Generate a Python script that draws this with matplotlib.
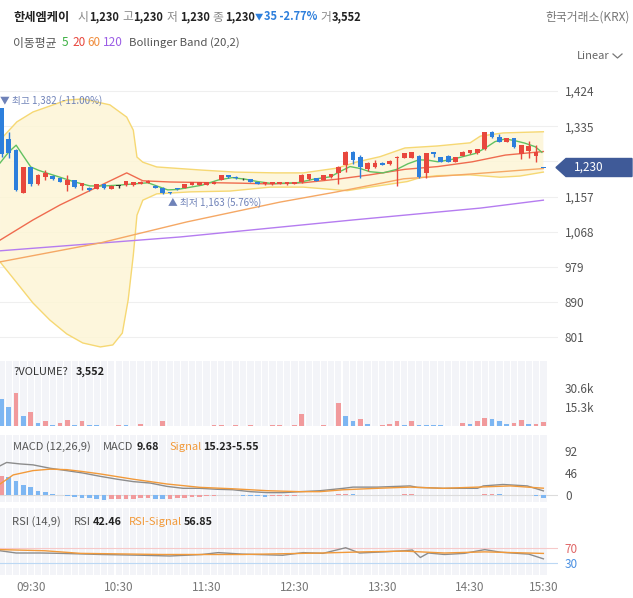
import matplotlib
matplotlib.use("Agg")
import matplotlib.pyplot as plt
from matplotlib.patches import Polygon
from matplotlib.lines import Line2D
import numpy as np

plt.rcParams['font.family'] = ['Noto Sans CJK KR', 'DejaVu Sans']

W, H = 633, 598

# 5-minute candles, visible window (index 0..74)
opens = [1380, 1303, 1275, 1167, 1231, 1188, 1206, 1209, 1203, 1186,
         1198, 1184, 1180, 1176, 1188, 1176, 1185, 1186, 1186, 1190,
         1192, 1185, 1180, 1168, 1179, 1180, 1187, 1187, 1187, 1190,
         1199, 1211, 1207, 1203, 1201, 1193, 1188, 1188, 1188, 1188,
         1188, 1193, 1201, 1203, 1199, 1206, 1216, 1237, 1269, 1256,
         1226, 1231, 1243, 1239, 1254, 1255, 1255, 1260, 1216, 1269,
         1256, 1260, 1245, 1260, 1266, 1266, 1277, 1320, 1307, 1295,
         1304, 1264, 1273, 1260, 1230]
highs = [1382, 1320, 1278, 1233, 1233, 1213, 1225, 1211, 1205, 1211,
         1200, 1192, 1181, 1190, 1189, 1186, 1187, 1197, 1194, 1196,
         1198, 1186, 1181, 1169, 1180, 1189, 1194, 1193, 1194, 1196,
         1212, 1212, 1208, 1204, 1202, 1194, 1194, 1195, 1195, 1194,
         1195, 1213, 1214, 1204, 1212, 1215, 1235, 1272, 1272, 1262,
         1245, 1249, 1245, 1250, 1260, 1268, 1270, 1261, 1268, 1270,
         1257, 1261, 1257, 1273, 1276, 1278, 1321, 1323, 1315, 1305,
         1305, 1288, 1297, 1287, 1230]
lows = [1258, 1255, 1170, 1165, 1183, 1186, 1200, 1199, 1193, 1171,
        1180, 1173, 1172, 1175, 1177, 1175, 1178, 1185, 1185, 1189,
        1191, 1178, 1163, 1163, 1174, 1179, 1186, 1186, 1187, 1189,
        1198, 1203, 1202, 1198, 1194, 1188, 1187, 1187, 1188, 1187,
        1188, 1192, 1200, 1196, 1198, 1205, 1190, 1219, 1240, 1203,
        1222, 1229, 1236, 1237, 1185, 1254, 1254, 1203, 1203, 1256,
        1244, 1244, 1244, 1259, 1265, 1265, 1276, 1306, 1294, 1294,
        1281, 1252, 1254, 1244, 1230]
closes = [1264, 1266, 1174, 1231, 1188, 1211, 1217, 1201, 1195, 1199,
          1182, 1191, 1174, 1188, 1178, 1185, 1185, 1196, 1193, 1195,
          1197, 1179, 1166, 1165, 1175, 1188, 1193, 1193, 1193, 1195,
          1211, 1207, 1203, 1203, 1195, 1189, 1193, 1194, 1194, 1194,
          1194, 1212, 1213, 1197, 1211, 1214, 1233, 1270, 1249, 1231,
          1243, 1243, 1237, 1248, 1258, 1266, 1269, 1206, 1266, 1264,
          1245, 1245, 1256, 1269, 1275, 1277, 1320, 1307, 1295, 1304,
          1282, 1287, 1286, 1269, 1230]

volume_prev = 24000
volume = [21500, 15500, 26300, 8000, 11300, 2700, 3800, 1000, 2400, 4800,
          1000, 3800, 800, 700, 0, 0, 500, 500, 0, 1600,
          0, 0, 4300, 0, 0, 0, 0, 0, 0, 1000,
          1100, 0, 600, 0, 700, 0, 0, 600, 700, 0,
          500, 9700, 0, 0, 800, 0, 18800, 8000, 3800, 5900,
          1600, 0, 800, 1300, 4300, 600, 3800, 500, 500, 500,
          500, 0, 0, 2400, 1600, 3800, 6400, 5600, 3800, 1600,
          2700, 5100, 1600, 1800, 3552]

hist_prev = 35
macd_hist = [39.7, 38, 31, 22, 17, 10, 7, 3.5, 1, -2,
             -3.5, -4.5, -5.5, -7, -9.5, -8, -7.5, -7, -6.5, -6,
             -5.5, -6.5, -8, -7, -6, -5, -4, -3, -2, -1,
             0, 0.5, 0.3, -0.5, -1.5, -2, -2.5, -2, -1.5, -1,
             -0.5, 0.5, 1, 0.8, 1, 1.5, 2.5, 3.5, 2.5, 2,
             1.8, 1.5, 1.0, 0.7, 2, 2.1, 2.2, 0, 0, 0.5,
             0.3, 0, 0.5, 0.8, 1.0, 1.5, 2.5, 3.5, 2.5, 2,
             1.5, 0.7, 0, -1, -5.55]

# indicator lines (candle index, value)
ma5_x = [-0.2, 1, 2, 2.9, 4, 5, 6.1, 8, 10, 12.1, 14, 16, 18, 20, 22.7, 24,
         27.4, 29.6, 31.5, 33.3, 35, 37, 40.4, 42.6, 44.9, 46.2, 47.6, 49,
         50.3, 52.1, 54, 55.5, 57, 58.3, 59.6, 61.5, 63, 64.7, 66, 67.4,
         68.8, 70.2, 71.5, 72.9, 73.8]
ma5_v = [1242, 1270, 1287, 1262, 1232, 1224, 1217, 1206, 1194, 1184, 1184,
         1186, 1189, 1192, 1174, 1175, 1186, 1199, 1205, 1201, 1195, 1190,
         1192, 1201, 1207, 1220, 1233, 1228, 1220, 1217, 1226, 1240, 1250,
         1249, 1245, 1251, 1258, 1266, 1279, 1296, 1303, 1298, 1292, 1283,
         1269]
ma20_x = [-0.2, 4.3, 8, 13.5, 17.1, 19.3, 23, 32.6, 36.7, 41.2, 45.8, 50.3,
          55.1, 59.6, 64.3, 68.8, 74]
ma20_v = [1047, 1098, 1136, 1185, 1217, 1197, 1194, 1191, 1189, 1192, 1201,
          1212, 1226, 1233, 1245, 1262, 1271]
ma60_x = [-0.2, 13.5, 25.3, 38, 45.8, 54.9, 64, 74]
ma60_v = [992, 1040, 1093, 1143, 1169, 1202, 1214, 1228]
ma120_x = [-0.2, 24.4, 48, 65.4, 74]
ma120_v = [1020, 1055, 1098, 1128, 1148]
bb_up_x = [-0.2, 2.1, 4.3, 8.9, 11.1, 14.8, 17.1, 18, 18.5, 19.3, 21.2, 27.4,
           31.9, 37.4, 41.2, 45.8, 48.6, 51.7, 55.1, 59.5, 64, 65.4, 68.5, 74]
bb_up_v = [1300, 1346, 1371, 1401, 1404, 1389, 1358, 1325, 1257, 1244, 1232,
           1224, 1219, 1217, 1217, 1229, 1245, 1258, 1280, 1285, 1293, 1310,
           1318, 1321]
bb_lo_x = [-0.2, 2.1, 4.3, 6.6, 8.9, 11.1, 13.5, 15.2, 16.5, 17.3, 18, 18.5,
           19.3, 21.2, 25.8, 31.2, 36.7, 41.2, 45.8, 47.2, 50.3, 55.4, 57.2,
           59.5, 64, 68.1, 70.8, 74]
bb_lo_v = [992, 939, 888, 845, 810, 787, 777, 782, 812, 896, 1009, 1110, 1148,
           1164, 1169, 1171, 1181, 1181, 1174, 1172, 1181, 1195, 1205, 1210,
           1212, 1206, 1209, 1219]

macd_x = [-0.2, 0.7, 2.5, 4.3, 6.6, 8.9, 11.1, 13.5, 15.8, 18, 20.3, 22.6,
          24.8, 27.1, 29.4, 31.6, 34, 36.3, 38.5, 40.8, 43.5, 46.7, 48, 51.3,
          55.8, 56.8, 60.3, 65, 65.8, 68.5, 71.8, 74]
macd_v = [62, 69, 66, 64, 57, 52, 47, 40, 34, 29, 26, 19, 15, 15, 13, 12, 8,
          6, 6, 8, 10, 15, 17.5, 17.5, 20, 17, 15, 15, 20, 23, 20, 9.68]
sig_x = [-0.2, 1.6, 4.3, 6.6, 8.9, 11.1, 13.5, 18, 22.6, 27.1, 31.6, 36.3,
         40.8, 43.5, 46.7, 51.3, 55.8, 60.3, 65, 69.5, 74]
sig_v = [24, 43, 52, 55, 54, 50, 45, 34, 24, 17, 14, 10, 8, 8, 12, 15, 17.5,
         15, 17.5, 20, 15.23]

rsi_x = [-0.2, 2, 5.3, 8.1, 13.6, 19.1, 23, 27.4, 29.6, 32.9, 38.4, 41.2,
         43.9, 47, 48.9, 52.2, 55, 56.1, 57.2, 58.3, 60.5, 63.2, 66, 68.2,
         70.4, 72, 74]
rsi_v = [64, 58, 58, 57, 54, 52, 50, 54, 59, 55, 52, 59, 57, 72, 58, 61, 64,
         66, 46, 58, 54, 57, 67, 60, 57, 55, 42.46]
rsis_x = [-0.2, 5.9, 10.8, 21.9, 32.9, 43.9, 49.4, 55, 60.5, 66, 74]
rsis_v = [67, 64, 57, 54, 54, 58, 61, 63, 58, 61, 56.85]

price_ticks = [1424, 1335, 1246, 1157, 1068, 979, 890, 801]
time_pos = [4, 16, 28, 40, 52, 64, 74]
time_labels = ["09:30", "10:30", "11:30", "12:30", "13:30", "14:30", "15:30"]

RED = '#e8473d'
BLUE = '#2d7fdc'
RED_L = '#f19a9c'
BLUE_L = '#7db6f2'
GRID = '#efefef'
LBL = '#555555'

fig = plt.figure(figsize=(W / 100, H / 100), dpi=100)


def pane(top, bottom):
    ax = fig.add_axes([0, 1 - bottom / H, 558 / W, (bottom - top) / H])
    ax.set_xlim(-0.205, 76.0)
    for s in ax.spines.values():
        s.set_visible(False)
    ax.set_xticks([])
    ax.yaxis.tick_right()
    ax.tick_params(axis='y', length=0, pad=5, labelsize=8.5, labelcolor=LBL)
    return ax


def ftext(x, y, s, **kw):
    kw.setdefault('fontsize', 8)
    kw.setdefault('color', LBL)
    fig.text(x / W, 1 - y / H, s, va='center', **kw)


idx = np.arange(len(closes))
o = np.array(opens, float)
c = np.array(closes, float)

# ---------- price pane ----------
ax = pane(80, 355)
ax.set_ylim(756.6, 1451.8)
ax.set_yticks(price_ticks)
ax.set_yticklabels([f"{v:,}" for v in price_ticks])
for v in price_ticks:
    ax.axhline(v, color=GRID, lw=0.8, zorder=0)

ax.fill(np.concatenate([bb_up_x, bb_lo_x[::-1]]),
        np.concatenate([bb_up_v, bb_lo_v[::-1]]),
        color='#fdf5d6', alpha=0.85, lw=0, zorder=1)
ax.plot(bb_up_x, bb_up_v, color='#f6d873', lw=1, zorder=2)
ax.plot(bb_lo_x, bb_lo_v, color='#f6d873', lw=1, zorder=2)
ax.plot(ma120_x, ma120_v, color='#b57cf0', lw=1, zorder=2)
ax.plot(ma60_x, ma60_v, color='#f5a865', lw=1, zorder=2)
ax.plot(ma20_x, ma20_v, color='#ef6b4f', lw=1, zorder=3)
ax.plot(ma5_x, ma5_v, color='#62c162', lw=1, zorder=3)

cols = []
for i in range(len(c)):
    if c[i] > o[i]:
        cols.append(RED)
    elif c[i] < o[i]:
        cols.append(BLUE)
    elif i > 0 and c[i] < c[i - 1]:
        cols.append(BLUE)
    else:
        cols.append('#333333')
ax.vlines(idx, lows, highs, colors=cols, lw=1, zorder=4)
ax.bar(idx, np.maximum(np.abs(c - o), 2), bottom=np.minimum(o, c),
       width=0.64, color=cols, zorder=5)

ax.text(-0.2, 1398.7, '▼ 최고 1,382 (-11.00%)', color='#6f82b8', fontsize=7,
        va='center', ha='left', zorder=6)
ax.text(22.7, 1141, '▲ 최저 1,163 (5.76%)', color='#6f82b8', fontsize=7,
        va='center', ha='left', zorder=6)

# current price tag
tag = [(556, 167.5), (566, 158.5), (632, 158.5), (632, 176.5), (566, 176.5)]
fig.patches.append(Polygon([(x / W, 1 - y / H) for x, y in tag], closed=True,
                           transform=fig.transFigure, color='#3f5a98',
                           zorder=5))
ftext(574, 167.5, '1,230', color='white', fontsize=8.5, zorder=6)

# ---------- volume pane ----------
axv = pane(361, 426)
axv.set_ylim(0, 52300)
axv.bar(idx, 52300, width=0.86, color='#f3f4f8', zorder=0)
vprev = [volume_prev] + volume[:-1]
vcol = [RED_L if v > p else BLUE_L for v, p in zip(volume, vprev)]
axv.bar(idx, volume, width=0.64, color=vcol, zorder=2)
axv.set_yticks([15300, 30600])
axv.set_yticklabels(['15.3k', '30.6k'])

# ---------- MACD pane ----------
axm = pane(435, 502)
axm.set_ylim(-13.6, 126.4)
axm.bar(idx, 140, bottom=-13.6, width=0.86, color='#f3f4f8', zorder=0)
axm.axhline(0, color='#dcdcdc', lw=0.8, zorder=1)
hprev = [hist_prev] + macd_hist[:-1]
hcol = [RED_L if v > p else BLUE_L for v, p in zip(macd_hist, hprev)]
axm.bar(idx, macd_hist, width=0.64, color=hcol, zorder=2)
axm.plot(macd_x, macd_v, color='#8c8c8c', lw=1, zorder=3)
axm.plot(sig_x, sig_v, color='#f29a3a', lw=1, zorder=3)
axm.set_yticks([0, 46, 92])

# ---------- RSI pane ----------
axr = pane(508, 575)
axr.set_ylim(-0.7, 178)
axr.bar(idx, 180, bottom=-0.7, width=0.86, color='#f3f4f8', zorder=0)
axr.axhline(70, color='#f6c9c9', lw=0.8, zorder=1)
axr.axhline(30, color='#bcd8f4', lw=0.8, zorder=1)
axr.plot(rsi_x, rsi_v, color='#8c8c8c', lw=1, zorder=3)
axr.plot(rsis_x, rsis_v, color='#f29a3a', lw=1, zorder=3)
axr.set_yticks([30, 70])
axr.set_yticklabels(['30', '70'])
for lab, col in zip(axr.get_yticklabels(), ['#4a90e2', '#e06666']):
    lab.set_color(col)
axr.set_xticks(time_pos)
axr.set_xticklabels(time_labels)
axr.tick_params(axis='x', length=0, pad=4, labelsize=8.5, labelcolor='#777777')

# ---------- header texts ----------
ftext(13, 17, '한세엠케이', fontsize=8.8, fontweight='bold', color='#222222')
for x, s, bold in [(77, '시', False), (89, '1,230', True), (122, '고', False),
                   (133, '1,230', True), (167, '저', False), (180, '1,230', True),
                   (212, '종', False), (225, '1,230', True), (320, '거', False),
                   (332, '3,552', True)]:
    if bold:
        ftext(x, 17, s, fontsize=8, fontweight='bold', color='#222222')
    else:
        ftext(x, 17, s, fontsize=8.5, color='#888888')
ftext(255, 17, '▼', fontsize=6, color='#2d7fdc')
ftext(264, 17, '35 -2.77%', fontsize=8, fontweight='bold', color='#2d7fdc')
ftext(630, 17, '한국거래소(KRX)', fontsize=8.5, color='#777777', ha='right')

ftext(13, 43, '이동평균', fontsize=8.5)
ftext(62, 43, '5', fontsize=8.5, color='#3cb043')
ftext(72, 43, '20', fontsize=8.5, color='#e8473d')
ftext(87, 43, '60', fontsize=8.5, color='#f08c3c')
ftext(103, 43, '120', fontsize=8.5, color='#9b5de5')
ftext(129, 43, 'Bollinger Band (20,2)', fontsize=8.2)

ftext(577, 56, 'Linear', fontsize=8, color='#666666')
fig.lines.append(Line2D([613 / W, 617.5 / W, 622 / W],
                        [1 - 54 / H, 1 - 58 / H, 1 - 54 / H],
                        transform=fig.transFigure, color='#777777', lw=0.9))

ftext(13, 372, '?VOLUME?', color='#333333')
ftext(76, 372, '3,552', fontweight='bold', color='#222222', fontsize=7.8)

ftext(13, 447, 'MACD (12,26,9)')
ftext(103, 447, 'MACD')
ftext(137, 447, '9.68', fontweight='bold', color='#222222', fontsize=7.8)
ftext(169, 447, 'Signal', color='#f29a3a')
ftext(203, 447, '15.23-5.55', fontweight='bold', color='#222222', fontsize=7.8)

ftext(12, 522, 'RSI (14,9)')
ftext(74, 522, 'RSI')
ftext(93, 522, '42.46', fontweight='bold', color='#222222', fontsize=7.8)
ftext(129, 522, 'RSI-Signal', color='#f29a3a')
ftext(184, 522, '56.85', fontweight='bold', color='#222222', fontsize=7.8)

fig.savefig('out.png', dpi=100)
